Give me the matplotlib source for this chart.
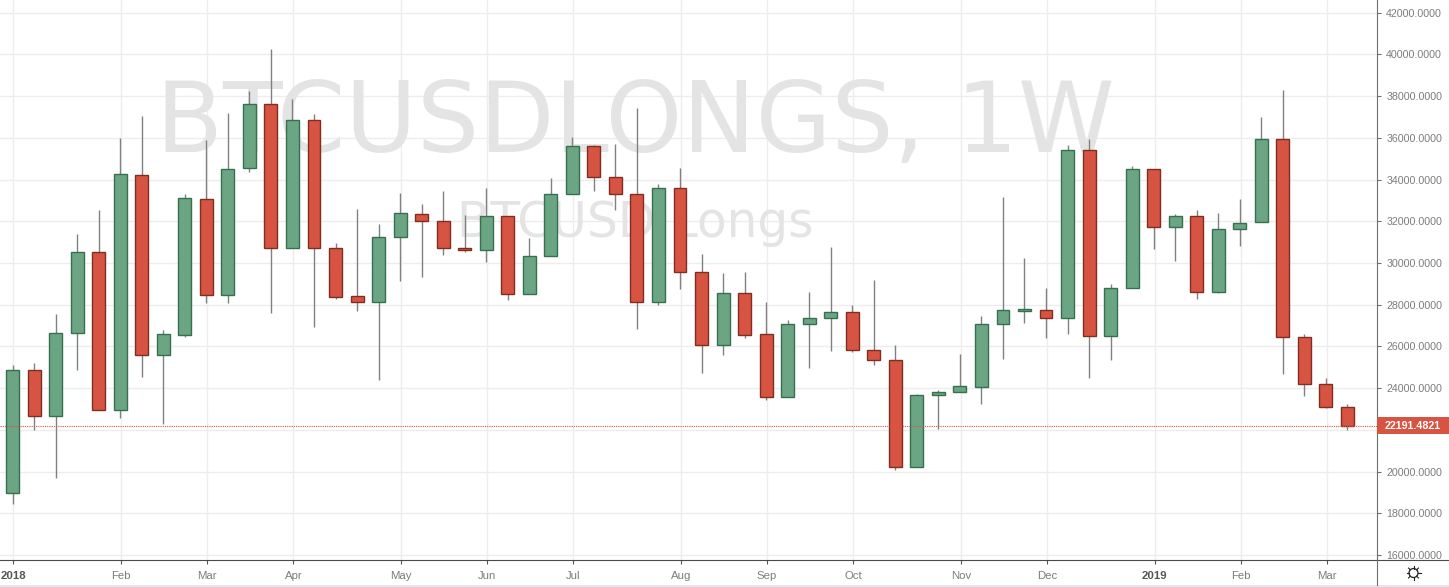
"""Weekly BTCUSDLONGS candles, TradingView look."""
import numpy as np
import matplotlib
matplotlib.use('Agg')
import matplotlib.pyplot as plt
from matplotlib.patches import Circle, Rectangle

W, H = 1449, 587
UP, UP_EDGE = '#6ba583', '#35704f'
DOWN, DOWN_EDGE = '#d75442', '#7f2e23'
WICK = '#808083'
GRID = '#ededed'
TXT = '#7c7c7c'

opens = [18990, 24860, 22660, 26630, 30540, 22970, 34200, 25590, 26550, 33050, 28460, 34540, 37610, 30730, 36840, 30730,
         28400, 28140, 31230, 32330, 32000, 30730, 30640, 32240, 28530, 30320, 33290, 35590, 34140, 33320, 28140, 33580,
         29580, 26080, 28550, 26580, 23590, 27070, 27350, 27640, 25840, 25360, 20220, 23660, 23810, 24050, 27090, 27700,
         27730, 27380, 35400, 26500, 28810, 34490, 31740, 32240, 28620, 31610, 31980, 35930, 26470, 24210, 23100]
highs = [25090, 25190, 27550, 31390, 32540, 35980, 37050, 26790, 33290, 35900, 37190, 38240, 40240, 37860, 37130, 30940,
         32570, 31850, 33350, 32830, 33450, 32300, 33580, 32240, 31180, 34060, 36030, 35660, 35700, 37430, 33790, 34540,
         30430, 29520, 29550, 28130, 27270, 28610, 30770, 27990, 29180, 26070, 23700, 23910, 25640, 27440, 33150, 30220,
         28790, 35640, 35930, 28980, 34650, 34490, 32330, 32530, 32400, 33070, 36980, 38290, 26600, 24470, 23240]
lows = [18430, 21990, 19680, 24870, 22970, 22570, 24530, 22280, 26470, 28070, 28070, 34360, 27620, 30730, 26950, 28260,
        27700, 24390, 29150, 29340, 30370, 30510, 30030, 28230, 28530, 30320, 33290, 33450, 32540, 26850, 27990, 28750,
        24740, 25570, 26390, 23430, 23590, 24970, 25780, 25720, 25110, 20080, 20220, 22040, 23810, 23240, 25380, 27120,
        26400, 26600, 24500, 25350, 28810, 30670, 30090, 28270, 28580, 30810, 31980, 24680, 23620, 23070, 21980]
closes = [24860, 22660, 26630, 30540, 22970, 34250, 25590, 26580, 33100, 28460, 34490, 37610, 30730, 36840, 30730, 28380,
          28140, 31230, 32380, 32000, 30730, 30640, 32240, 28530, 30320, 33290, 35590, 34140, 33320, 28140, 33580, 29580,
          26080, 28550, 26550, 23590, 27090, 27350, 27640, 25840, 25360, 20220, 23660, 23830, 24090, 27090, 27730, 27780,
          27380, 35400, 26500, 28810, 34490, 31740, 32240, 28620, 31610, 31900, 35930, 26470, 24210, 23100, 22191.4821]

month_pos = [0, 5, 9, 13, 18, 22, 26, 31, 35, 39, 44, 48, 53, 57, 61]
month_labels = ['2018', 'Feb', 'Mar', 'Apr', 'May', 'Jun', 'Jul', 'Aug', 'Sep', 'Oct', 'Nov', 'Dec', '2019', 'Feb', 'Mar']
price_ticks = list(range(16000, 42001, 2000))
last_price = 22191.4821

plt.rcParams['font.family'] = ['Liberation Sans', 'DejaVu Sans']

fig = plt.figure(figsize=(W / 100, H / 100), dpi=100)
fig.patch.set_facecolor('white')
ax = fig.add_axes([0, (H - 559.5) / H, 1376.5 / W, 559.5 / H])
ax.set_xlim(-0.585, 63.35)
ax.set_ylim(15785, 42607)

x = np.arange(len(opens))
o, h, l, c = map(np.array, (opens, highs, lows, closes))
up = c >= o

# grid and watermark sit behind the candles
ax.set_axisbelow(True)
ax.grid(True, color=GRID, lw=1.0)
ax.text(0.4613, 0.7283, 'BTCUSDLONGS, 1W', transform=ax.transAxes, family='DejaVu Sans', fontsize=70.4,
        color='#e4e4e4', ha='center', va='baseline', zorder=1)
ax.text(0.4613, 0.577, 'BTCUSD Longs', transform=ax.transAxes, family='DejaVu Sans', fontsize=35,
        color='#e4e4e4', ha='center', va='baseline', zorder=1)

ax.vlines(x, l, h, color=WICK, lw=1.0, zorder=2)
ax.bar(x, c - o, bottom=o, width=0.6, color=np.where(up, UP, DOWN), edgecolor=np.where(up, UP_EDGE, DOWN_EDGE),
       linewidth=1.0, zorder=3)
ax.axhline(last_price, color=DOWN, lw=0.8, ls=(0, (1, 1)), zorder=4)

ax.yaxis.tick_right()
ax.set_yticks(price_ticks)
# the 22000 label is hidden by the price tag
ax.set_yticklabels(['' if v == 22000 else f'{v}.0000' for v in price_ticks])
ax.set_xticks(np.array(month_pos) + 0.04)
ax.set_xticklabels(month_labels)
ax.tick_params(axis='y', length=3, width=0.8, color='#6e6e6e', labelcolor=TXT, labelsize=7.7, pad=4)
ax.tick_params(axis='x', length=3, width=0.8, color='#555555', labelcolor=TXT, labelsize=8.2, pad=5)
for lab in ax.get_xticklabels():
    if lab.get_text() in ('2018', '2019'):
        lab.set_fontweight('bold')
        lab.set_color('#555555')
for side in ('top', 'left'):
    ax.spines[side].set_visible(False)
ax.spines['bottom'].set_color('#4a4a4a')
ax.spines['right'].set_color('#6e6e6e')

# chrome in pixel coordinates: axis stubs, price tag, settings icon
over = fig.add_axes([0, 0, 1, 1])
over.set_xlim(0, W)
over.set_ylim(H, 0)
over.axis('off')
over.patch.set_alpha(0)
over.plot([1376.5, W], [559.5, 559.5], color='#4a4a4a', lw=0.8)
over.plot([1376.5, 1376.5], [559.5, 585], color='#6e6e6e', lw=0.8)
over.add_patch(Rectangle((0, 585), W, 2, color='#e6e6ee', lw=0))
tag_y = ax.transData.transform((0, last_price))[1]
tag_y = H - tag_y
over.add_patch(Rectangle((1377, tag_y - 9), 72, 17, color=DOWN, lw=0, zorder=3))
over.text(1413, tag_y, f'{last_price:.4f}', color='white', fontsize=7.7, fontweight='bold', ha='center',
          va='center', zorder=4)
over.add_patch(Circle((1413.5, 573), 4.5, ec='#222222', fc='none', lw=0.9))
for a in np.arange(0, 2 * np.pi, np.pi / 4):
    over.plot([1413.5 + 4.5 * np.cos(a), 1413.5 + 7 * np.cos(a)], [573 + 4.5 * np.sin(a), 573 + 7 * np.sin(a)],
              color='#222222', lw=0.8)

fig.savefig('out.png', dpi=100)
